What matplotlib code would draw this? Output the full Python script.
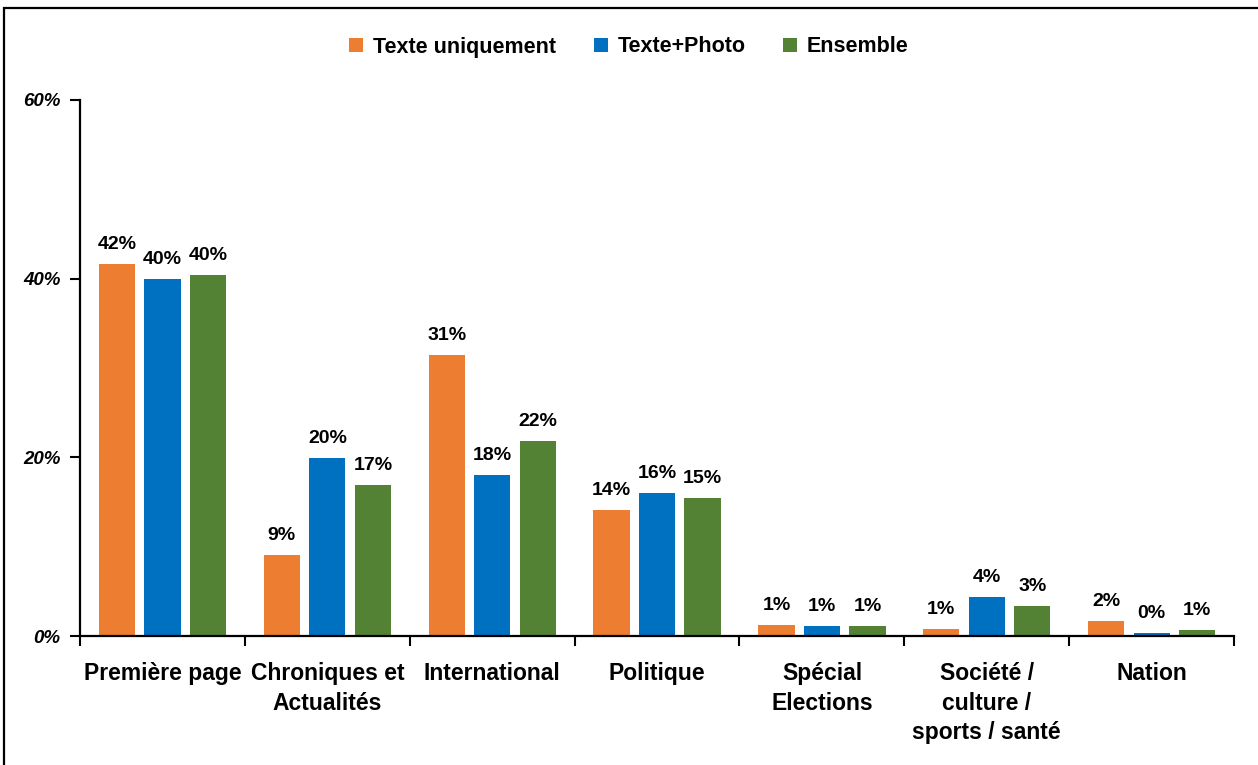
import matplotlib.pyplot as plt
import numpy as np
from matplotlib.patches import Rectangle

plt.rcParams["font.family"] = ["Liberation Sans", "DejaVu Sans"]

# Data
categories = ["Première page", "Chroniques et\nActualités", "International", "Politique",
              "Spécial\nElections", "Société /\nculture /\nsports / santé", "Nation"]
texte_seul = [41.6, 9.1, 31.4, 14.1, 1.2, 0.8, 1.7]
texte_photo = [40.0, 19.9, 18.0, 16.0, 1.1, 4.4, 0.3]
ensemble = [40.4, 16.9, 21.8, 15.4, 1.1, 3.4, 0.7]
series_names = ["Texte uniquement", "Texte+Photo", "Ensemble"]
colors = ["#ED7D31", "#0070C0", "#548235"]

fig = plt.figure(figsize=(12.58, 7.65), dpi=100)
ax = fig.add_axes([0.0636, 0.1686, 0.9174, 0.7007])

# frame around the figure
fig.patches.append(Rectangle((4 / 1258, -0.05), 1.1, 1 - 8 / 765 + 0.05,
                             transform=fig.transFigure, fill=False,
                             edgecolor="black", linewidth=1.6))

x = np.arange(len(categories))
width = 0.22
step = 0.276
for i, (vals, name, c) in enumerate(zip([texte_seul, texte_photo, ensemble], series_names, colors)):
    pos = x + (i - 1) * step
    ax.bar(pos, vals, width, color=c, label=name)
    for p, v in zip(pos, vals):
        ax.annotate(f"{round(v):.0f}%", (p, v), xytext=(0, 8), textcoords="offset points",
                    ha="center", va="bottom", fontsize=14, fontweight="bold")

ax.set_xlim(-0.5, len(categories) - 0.5)
ax.set_ylim(0, 60)
ax.set_yticks([0, 20, 40, 60])
ax.set_yticklabels(["0%", "20%", "40%", "60%"], fontsize=13.5, fontweight="bold", style="italic")
ax.set_xticks(np.arange(len(categories) + 1) - 0.5)
ax.set_xticklabels([])
ax.set_xticks(x, minor=True)
ax.set_xticklabels(categories, minor=True, fontsize=16.5, fontweight="bold", linespacing=1.35)
ax.tick_params(axis="x", which="minor", length=0, pad=19)
ax.tick_params(axis="x", which="major", length=7, width=1.5, direction="out")
ax.tick_params(axis="y", length=7, width=1.5, direction="out", pad=7)

for s in ["top", "right"]:
    ax.spines[s].set_visible(False)
ax.spines["left"].set_linewidth(1.6)
ax.spines["bottom"].set_linewidth(1.6)

fig.legend(loc="center", bbox_to_anchor=(0.5, 1 - 47 / 765), ncol=3, frameon=False,
           prop={"size": 15.5, "weight": "bold"}, handlelength=0.65, handleheight=0.65,
           handletextpad=0.45, columnspacing=1.75)

plt.savefig("out.png", dpi=100)
